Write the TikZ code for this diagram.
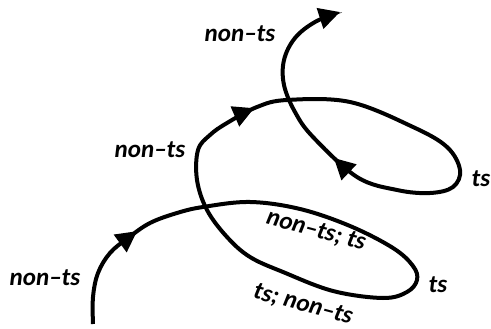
\documentclass[tikz,border=0pt]{standalone}
\usepackage{fontspec}
\setmainfont{Carlito}
\usetikzlibrary{arrows.meta,decorations.markings}
\begin{document}
\begin{tikzpicture}[>={Triangle[length=21pt,width=21pt]}, x=1pt, y=-1pt, line width=4pt,
    font=\fontsize{25}{30}\selectfont\bfseries\itshape]
  \useasboundingbox (0,0) rectangle (491,329);
  \draw[->, decoration={markings,
        mark=at position 0.08 with {\arrow{>}},
        mark=at position 0.583 with {\arrow{>}},
        mark=at position 0.86 with {\arrow{>}}}, postaction={decorate}]
    plot[smooth, tension=0.6] coordinates {(93,324) (93,297) (98,273) (110,253) (128,238)
      (150,223) (177,213) (203,207) (250,202) (300,209) (350,226) (393,248) (413,266)
      (417,280) (407,292) (383,298) (333,291) (283,272) (250,257) (227,237) (207,210)
      (197,180) (198,150) (210,135) (227,123) (257,107) (287,100) (350,102) (413,127)
      (447,147) (460,170) (453,187) (430,193) (397,190) (357,177) (313,137) (295,112)
      (284,85) (284,60) (295,38) (315,22) (340,12)};
  \node (ntsa) at (45,278) {non–ts};
  \node (ntsb) at (150,150) {non–ts};
  \node (ntsc) at (240,34) {non–ts};
  \node (tsa) at (481,179) {ts};
  \node (tsb) at (438,285) {ts};
  \node[rotate=-15] (mixa) at (316,231) {non–ts; ts};
  \node[rotate=-15] (mixb) at (303,305) {ts; non–ts};
\end{tikzpicture}
\end{document}
